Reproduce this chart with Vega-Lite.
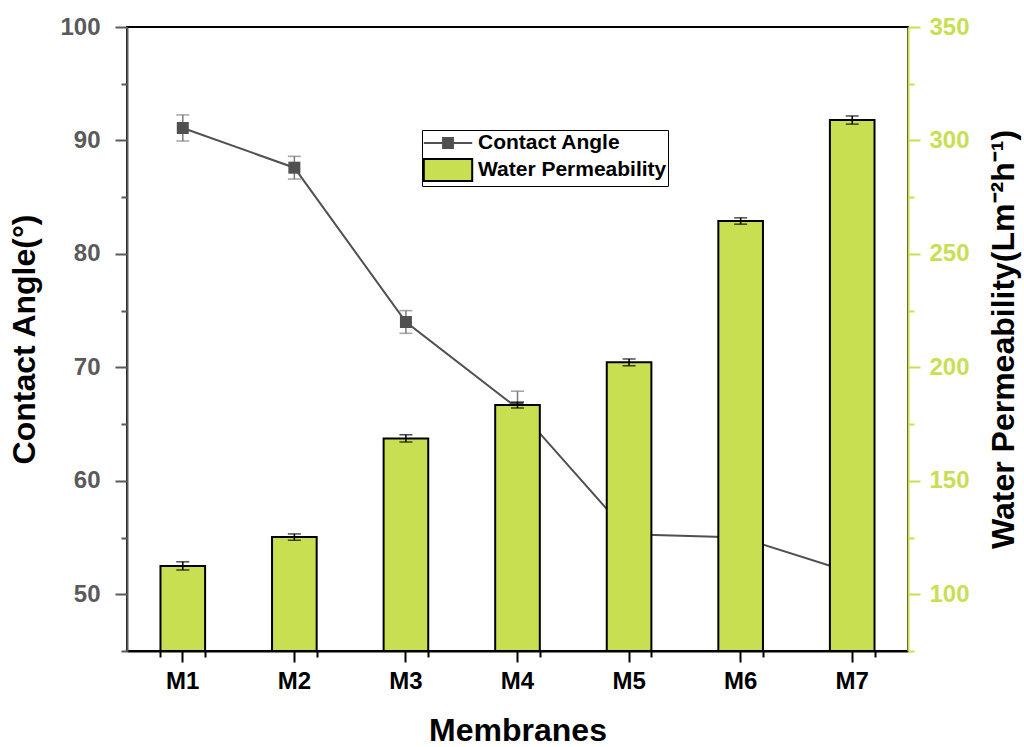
{
  "$schema": "https://vega.github.io/schema/vega-lite/v6.json",
  "width": 781,
  "height": 624,
  "autosize": {"type": "none"},
  "padding": {"left": 127, "top": 27, "right": 116, "bottom": 96},
  "background": "white",
  "config": {
    "font": "Liberation Sans",
    "view": {"stroke": "black", "strokeWidth": 2},
    "axis": {"grid": false, "labelFontWeight": "bold", "titleFontWeight": "bold", "labelFont": "Liberation Sans", "titleFont": "Liberation Sans", "labelFlush": false, "labelOverlap": false, "labelBound": false}
  },
  "data": {
    "values": [
      {"membrane": "M1", "angle": 91.1, "angle_lo": 89.95, "angle_hi": 92.25, "perm": 112.5, "perm_lo": 110.7, "perm_hi": 114.3},
      {"membrane": "M2", "angle": 87.6, "angle_lo": 86.6, "angle_hi": 88.6, "perm": 125.2, "perm_lo": 123.8, "perm_hi": 126.6},
      {"membrane": "M3", "angle": 74.0, "angle_lo": 73.0, "angle_hi": 75.0, "perm": 168.7, "perm_lo": 167.1, "perm_hi": 170.3},
      {"membrane": "M4", "angle": 66.4, "angle_lo": 64.9, "angle_hi": 67.9, "perm": 183.4, "perm_lo": 182.1, "perm_hi": 184.7},
      {"membrane": "M5", "angle": 55.3, "angle_lo": 54.3, "angle_hi": 56.3, "perm": 202.2, "perm_lo": 200.7, "perm_hi": 203.7},
      {"membrane": "M6", "angle": 55.0, "angle_lo": 54.0, "angle_hi": 56.0, "perm": 264.5, "perm_lo": 263.1, "perm_hi": 265.9},
      {"membrane": "M7", "angle": 51.9, "angle_lo": 50.9, "angle_hi": 52.9, "perm": 309.0, "perm_lo": 307.2, "perm_hi": 310.8}
    ]
  },
  "layer": [
    {
      "mark": {"type": "point", "filled": true, "opacity": 0},
      "encoding": {
        "x": {"field": "membrane", "type": "nominal", "scale": {"type": "band", "paddingInner": 0.6, "paddingOuter": 0.3}, "axis": null},
        "y": {"field": "angle", "type": "quantitative", "scale": {"domain": [45, 100], "nice": false, "zero": false}, "axis": null},
        "color": {"datum": "Contact Angle", "scale": {"domain": ["Contact Angle", "Water Permeability"], "range": ["#505050", "#c8df52"]},
          "legend": {
            "title": null, "orient": "none", "legendX": 295, "legendY": 103,
            "padding": 1, "strokeColor": "black", "fillColor": "white", "cornerRadius": 0,
            "labelFont": "Liberation Sans", "labelFontWeight": "bold", "labelFontSize": 21, "labelColor": "black", "labelOffset": 18, "labelLimit": 400,
            "rowPadding": 2, "symbolSize": 484, "symbolOffset": 13, "symbolStrokeWidth": 2, "symbolOpacity": 1, "symbolStrokeColor": "#1a1a1a",
            "encode": {"symbols": {"update": {"stroke": {"signal": "datum.value === 'Contact Angle' ? '#505050' : '#000000'"}, "strokeWidth": {"value": 2}}}}
          }},
        "shape": {"datum": "Contact Angle", "scale": {"domain": ["Contact Angle", "Water Permeability"], "range": ["M-2.2,0H-0.45M0.45,0H2.2M-0.45,-0.45H0.45V0.45H-0.45Z", "M-2.2,-1H2.2V1H-2.2Z"]},
          "legend": {
            "title": null, "orient": "none", "legendX": 295, "legendY": 103,
            "padding": 1, "strokeColor": "black", "fillColor": "white", "cornerRadius": 0,
            "labelFont": "Liberation Sans", "labelFontWeight": "bold", "labelFontSize": 21, "labelColor": "black", "labelOffset": 18, "labelLimit": 400,
            "rowPadding": 2, "symbolSize": 484, "symbolOffset": 13, "symbolStrokeWidth": 2, "symbolOpacity": 1, "symbolStrokeColor": "#1a1a1a",
            "encode": {"symbols": {"update": {"stroke": {"signal": "datum.value === 'Contact Angle' ? '#505050' : '#000000'"}, "strokeWidth": {"value": 2}}}}
          }}
      }
    },
    {
      "mark": {"type": "line", "strokeWidth": 2, "color": "#505050"},
      "encoding": {
        "x": {"field": "membrane", "type": "nominal", "scale": {"type": "band", "paddingInner": 0.6, "paddingOuter": 0.3}, "axis": null},
        "y": {"field": "angle", "type": "quantitative", "scale": {"domain": [45, 100], "nice": false, "zero": false},
          "axis": {"orient": "left", "values": [50, 60, 70, 80, 90, 100], "tickSize": 12, "tickWidth": 2, "tickColor": "#5a5a5a", "domainColor": "#5a5a5a", "domainWidth": 2, "labelFontSize": 24, "labelColor": "#5a5a5a", "labelPadding": 15, "title": "Contact Angle(°)", "titleFontSize": 32, "titleColor": "black", "titlePadding": 18}}
      }
    },
    {
      "mark": {"type": "rule", "color": "#7a7a7a", "strokeWidth": 1.5},
      "encoding": {
        "x": {"field": "membrane", "type": "nominal", "scale": {"type": "band", "paddingInner": 0.6, "paddingOuter": 0.3}, "axis": null},
        "y": {"field": "angle_lo", "type": "quantitative", "scale": {"domain": [45, 100], "nice": false, "zero": false},
          "axis": {"orient": "left", "values": [45, 55, 65, 75, 85, 95], "tickSize": 6, "tickWidth": 2, "tickColor": "#5a5a5a", "domain": false, "labels": false, "title": null}},
        "y2": {"field": "angle_hi"}
      }
    },
    {
      "mark": {"type": "tick", "color": "#7a7a7a", "thickness": 1.5},
      "encoding": {
        "x": {"field": "membrane", "type": "nominal", "scale": {"type": "band", "paddingInner": 0.6, "paddingOuter": 0.3}, "axis": null},
        "y": {"field": "angle_lo", "type": "quantitative", "scale": {"domain": [45, 100], "nice": false, "zero": false}, "axis": null},
        "size": {"value": 13}
      }
    },
    {
      "mark": {"type": "tick", "color": "#7a7a7a", "thickness": 1.5},
      "encoding": {
        "x": {"field": "membrane", "type": "nominal", "scale": {"type": "band", "paddingInner": 0.6, "paddingOuter": 0.3}, "axis": null},
        "y": {"field": "angle_hi", "type": "quantitative", "scale": {"domain": [45, 100], "nice": false, "zero": false}, "axis": null},
        "size": {"value": 13}
      }
    },
    {
      "mark": {"type": "point", "shape": "square", "filled": true, "color": "#505050", "size": 144, "opacity": 1},
      "encoding": {
        "x": {"field": "membrane", "type": "nominal", "scale": {"type": "band", "paddingInner": 0.6, "paddingOuter": 0.3}, "axis": null},
        "y": {"field": "angle", "type": "quantitative", "scale": {"domain": [45, 100], "nice": false, "zero": false}, "axis": null}
      }
    },
    {
      "mark": {"type": "bar", "stroke": "black", "strokeWidth": 2, "color": "#c8df52"},
      "encoding": {
        "x": {"field": "membrane", "type": "nominal", "scale": {"type": "band", "paddingInner": 0.6, "paddingOuter": 0.3},
          "axis": {"orient": "bottom", "labelAngle": 0, "tickSize": 11, "tickWidth": 2, "tickColor": "black", "domainColor": "black", "domainWidth": 2, "labelFontSize": 24, "labelColor": "black", "labelPadding": 7, "title": "Membranes", "titleFontSize": 32, "titleColor": "black", "titlePadding": 22}},
        "y": {"field": "perm", "type": "quantitative", "scale": {"domain": [75, 350], "nice": false, "zero": false},
          "axis": {"orient": "right", "values": [100, 150, 200, 250, 300, 350], "tickSize": 12, "tickWidth": 2, "tickColor": "#c8df52", "domainColor": "#c8df52", "domainWidth": 2, "labelFontSize": 24, "labelColor": "#c8df52", "labelPadding": 9, "title": "Water Permeability(Lm⁻²h⁻¹)", "titleAngle": 270, "titleFontSize": 32, "titleColor": "black", "titlePadding": 51}},
        "y2": {"datum": 75}
      }
    },
    {
      "mark": {"type": "rule", "color": "black", "strokeWidth": 1.5},
      "encoding": {
        "x": {"field": "membrane", "type": "nominal", "scale": {"type": "band", "paddingInner": 0.6, "paddingOuter": 0.3},
          "axis": {"orient": "bottom", "tickBand": "extent", "tickSize": 6, "tickWidth": 2, "tickColor": "black", "domain": false, "labels": false, "title": null}},
        "y": {"field": "perm_lo", "type": "quantitative", "scale": {"domain": [75, 350], "nice": false, "zero": false},
          "axis": {"orient": "right", "values": [75, 125, 175, 225, 275, 325], "tickSize": 6, "tickWidth": 2, "tickColor": "#c8df52", "domain": false, "labels": false, "title": null}},
        "y2": {"field": "perm_hi"}
      }
    },
    {
      "mark": {"type": "tick", "color": "black", "thickness": 1.5},
      "encoding": {
        "x": {"field": "membrane", "type": "nominal", "scale": {"type": "band", "paddingInner": 0.6, "paddingOuter": 0.3}, "axis": null},
        "y": {"field": "perm_lo", "type": "quantitative", "scale": {"domain": [75, 350], "nice": false, "zero": false}, "axis": null},
        "size": {"value": 13}
      }
    },
    {
      "mark": {"type": "tick", "color": "black", "thickness": 1.5},
      "encoding": {
        "x": {"field": "membrane", "type": "nominal", "scale": {"type": "band", "paddingInner": 0.6, "paddingOuter": 0.3}, "axis": null},
        "y": {"field": "perm_hi", "type": "quantitative", "scale": {"domain": [75, 350], "nice": false, "zero": false}, "axis": null},
        "size": {"value": 13}
      }
    }
  ],
  "resolve": {"scale": {"y": "independent"}, "axis": {"x": "independent", "y": "independent"}}
}
